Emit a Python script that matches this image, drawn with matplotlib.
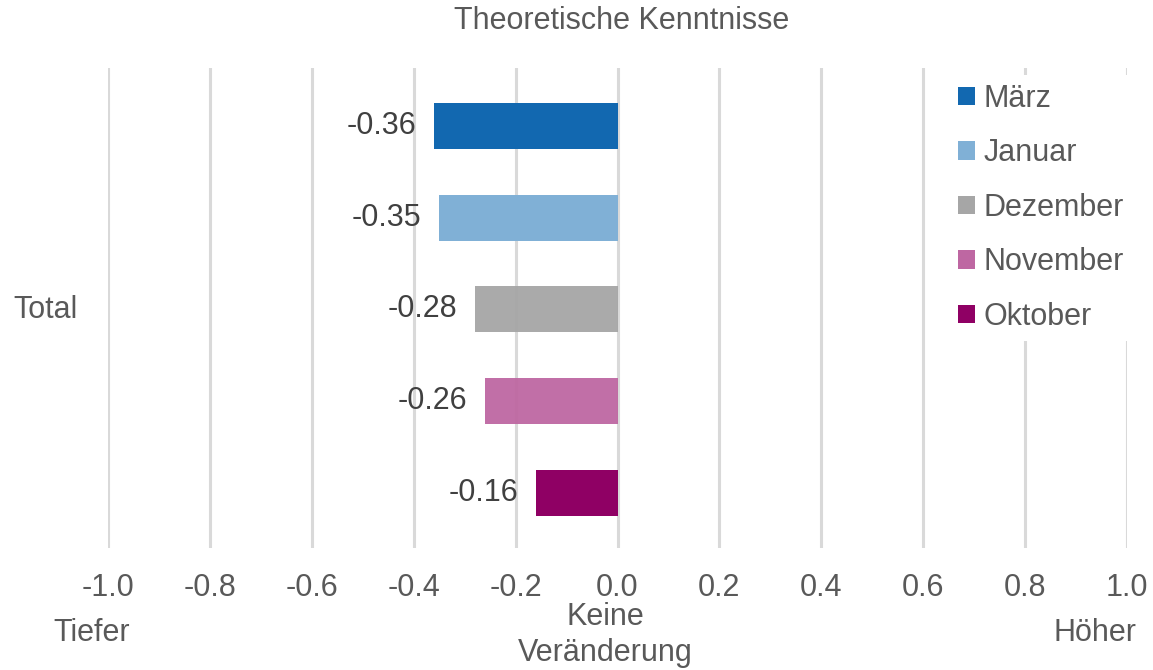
import matplotlib
matplotlib.use("Agg")
import matplotlib.pyplot as plt
from matplotlib.patches import Patch

plt.rcParams['font.family'] = ['Liberation Sans', 'DejaVu Sans']

months = ['März', 'Januar', 'Dezember', 'November', 'Oktober']
values = [-0.36, -0.35, -0.28, -0.26, -0.16]
colors = ['#1268B0', '#80B0D6', '#A6A6A6', '#BE67A2', '#8F0064']
xticks = [-1.0, -0.8, -0.6, -0.4, -0.2, 0.0, 0.2, 0.4, 0.6, 0.8, 1.0]
txt = '#595959'
fs = 22

fig = plt.figure(figsize=(11.53, 6.70), dpi=100)
ax = fig.add_axes([108/1153, 1-548/670, (1127-108)/1153, 480/670])

ypos = [4, 3, 2, 1, 0]
alphas = [1, 1, 0.95, 0.95, 1]
for y, v, c, a in zip(ypos, values, colors, alphas):
    ax.barh(y, v, height=0.5, color=c, alpha=a, zorder=3)
    ax.text(v - 0.035, y, f'{v:.2f}', ha='right', va='center',
            fontsize=fs, color='#404040', zorder=4)

ax.set_xlim(-1.0, 1.0)
ax.set_ylim(-0.6, 4.63)
ax.set_xticks(xticks)
ax.set_xticklabels([f'{t:.1f}' for t in xticks], fontsize=fs, color=txt)
ax.set_yticks([])
ax.tick_params(axis='x', length=0, pad=18)
ax.grid(axis='x', color='#D9D9D9', linewidth=2.2, zorder=0)
for s in ax.spines.values():
    s.set_visible(False)

fig.text(622/1153, 1-21/670, 'Theoretische Kenntnisse', ha='center', va='center',
         fontsize=fs, color=txt)
fig.text(13/1153, 1-310/670, 'Total', ha='left', va='center', fontsize=fs, color=txt)
fig.text(92/1153, 1-633/670, 'Tiefer', ha='center', va='center', fontsize=fs, color=txt)
fig.text(1095/1153, 1-633/670, 'Höher', ha='center', va='center', fontsize=fs, color=txt)
fig.text(605/1153, 1-635/670, 'Keine\nVeränderung', ha='center', va='center',
         fontsize=fs, color=txt, linespacing=1.3)

handles = [Patch(facecolor=c, edgecolor='none') for c in colors]
leg = ax.legend(handles, months, loc='upper left', bbox_to_anchor=(0.825, 0.986),
                frameon=True, fontsize=fs, handlelength=0.55, handleheight=0.55,
                handletextpad=0.3, labelspacing=0.8, borderpad=0.3,
                borderaxespad=0)
leg.get_frame().set_facecolor('white')
leg.get_frame().set_edgecolor('none')
leg.get_frame().set_alpha(1)
leg.set_zorder(5)
for t in leg.get_texts():
    t.set_color(txt)

fig.savefig('out.png', dpi=100)
